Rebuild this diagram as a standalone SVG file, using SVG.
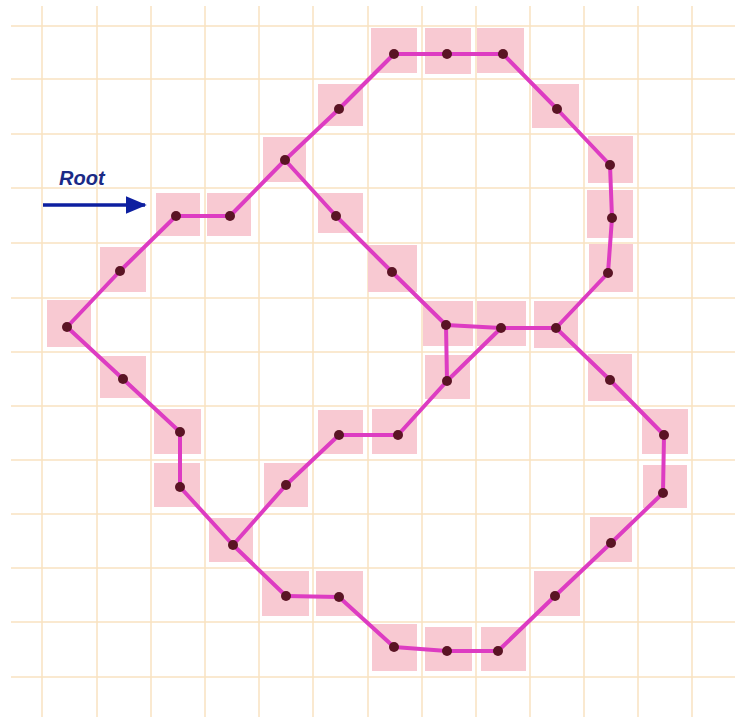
<svg xmlns="http://www.w3.org/2000/svg" width="735" height="718" viewBox="0 0 735 718">
<style>
.grid line{stroke:#f8e2c0;stroke-width:1.5}
.sq{fill:#f8c9d2}
.dot{fill:#5a1424}
.edges line{stroke:#dd3cc2;stroke-width:4;stroke-linecap:round}
.lbl{font-family:"Liberation Sans",Arial,sans-serif;font-size:20px;font-weight:bold;font-style:italic;fill:#1b2a86}
</style>
<defs>
<marker id="ah" markerWidth="6" markerHeight="5" refX="5.5" refY="2.5" orient="auto" markerUnits="strokeWidth">
<path d="M0,0 L6,2.5 L0,5 Z" fill="#0d1fa0"/>
</marker>
</defs>
<rect width="735" height="718" fill="#ffffff"/>
<g class="grid">
<line x1="42" y1="6" x2="42" y2="717"/><line x1="97" y1="6" x2="97" y2="717"/><line x1="151" y1="6" x2="151" y2="717"/><line x1="205" y1="6" x2="205" y2="717"/><line x1="259" y1="6" x2="259" y2="717"/><line x1="313" y1="6" x2="313" y2="717"/><line x1="368" y1="6" x2="368" y2="717"/><line x1="422" y1="6" x2="422" y2="717"/><line x1="476" y1="6" x2="476" y2="717"/><line x1="530" y1="6" x2="530" y2="717"/><line x1="584" y1="6" x2="584" y2="717"/><line x1="638" y1="6" x2="638" y2="717"/><line x1="692" y1="6" x2="692" y2="717"/>
<line x1="11" y1="26" x2="735" y2="26"/><line x1="11" y1="79" x2="735" y2="79"/><line x1="11" y1="134" x2="735" y2="134"/><line x1="11" y1="188" x2="735" y2="188"/><line x1="11" y1="243" x2="735" y2="243"/><line x1="11" y1="298" x2="735" y2="298"/><line x1="11" y1="352" x2="735" y2="352"/><line x1="11" y1="406" x2="735" y2="406"/><line x1="11" y1="460" x2="735" y2="460"/><line x1="11" y1="514" x2="735" y2="514"/><line x1="11" y1="568" x2="735" y2="568"/><line x1="11" y1="622" x2="735" y2="622"/><line x1="11" y1="677" x2="735" y2="677"/>
</g>
<g id="squares">
<rect class="sq" x="156" y="193" width="44" height="43"/>
<rect class="sq" x="207" y="193" width="44" height="43"/>
<rect class="sq" x="263" y="137" width="43" height="45"/>
<rect class="sq" x="318" y="84" width="45" height="42"/>
<rect class="sq" x="371" y="28" width="46" height="45"/>
<rect class="sq" x="425" y="28" width="46" height="46"/>
<rect class="sq" x="477" y="28" width="47" height="45"/>
<rect class="sq" x="532" y="84" width="47" height="44"/>
<rect class="sq" x="588" y="136" width="45" height="47"/>
<rect class="sq" x="587" y="190" width="46" height="48"/>
<rect class="sq" x="589" y="244" width="44" height="48"/>
<rect class="sq" x="534" y="301" width="44" height="47"/>
<rect class="sq" x="477" y="301" width="49" height="45"/>
<rect class="sq" x="423" y="301" width="50" height="45"/>
<rect class="sq" x="425" y="355" width="45" height="44"/>
<rect class="sq" x="372" y="409" width="45" height="45"/>
<rect class="sq" x="318" y="410" width="45" height="44"/>
<rect class="sq" x="264" y="463" width="44" height="44"/>
<rect class="sq" x="209" y="518" width="44" height="44"/>
<rect class="sq" x="262" y="571" width="47" height="45"/>
<rect class="sq" x="316" y="571" width="47" height="45"/>
<rect class="sq" x="372" y="624" width="45" height="47"/>
<rect class="sq" x="425" y="627" width="47" height="44"/>
<rect class="sq" x="481" y="627" width="45" height="44"/>
<rect class="sq" x="534" y="571" width="46" height="45"/>
<rect class="sq" x="590" y="517" width="42" height="45"/>
<rect class="sq" x="643" y="465" width="44" height="43"/>
<rect class="sq" x="642" y="409" width="46" height="45"/>
<rect class="sq" x="588" y="354" width="44" height="47"/>
<rect class="sq" x="100" y="247" width="46" height="45"/>
<rect class="sq" x="47" y="300" width="44" height="47"/>
<rect class="sq" x="100" y="356" width="46" height="42"/>
<rect class="sq" x="154" y="409" width="47" height="45"/>
<rect class="sq" x="154" y="463" width="46" height="44"/>
<rect class="sq" x="318" y="193" width="45" height="40"/>
<rect class="sq" x="368" y="245" width="49" height="47"/>
</g>
<g class="edges" id="connectors">
<line x1="176" y1="216" x2="230" y2="216"/>
<line x1="230" y1="216" x2="285" y2="160"/>
<line x1="285" y1="160" x2="339" y2="109"/>
<line x1="339" y1="109" x2="394" y2="54"/>
<line x1="394" y1="54" x2="447" y2="54"/>
<line x1="447" y1="54" x2="503" y2="54"/>
<line x1="503" y1="54" x2="557" y2="109"/>
<line x1="557" y1="109" x2="610" y2="165"/>
<line x1="610" y1="165" x2="612" y2="218"/>
<line x1="612" y1="218" x2="608" y2="273"/>
<line x1="608" y1="273" x2="556" y2="328"/>
<line x1="556" y1="328" x2="501" y2="328"/>
<line x1="501" y1="328" x2="446" y2="325"/>
<line x1="285" y1="160" x2="336" y2="216"/>
<line x1="336" y1="216" x2="392" y2="272"/>
<line x1="392" y1="272" x2="446" y2="325"/>
<line x1="446" y1="325" x2="447" y2="381"/>
<line x1="501" y1="328" x2="447" y2="381"/>
<line x1="447" y1="381" x2="398" y2="435"/>
<line x1="398" y1="435" x2="339" y2="435"/>
<line x1="339" y1="435" x2="286" y2="485"/>
<line x1="286" y1="485" x2="233" y2="545"/>
<line x1="233" y1="545" x2="286" y2="596"/>
<line x1="286" y1="596" x2="339" y2="597"/>
<line x1="339" y1="597" x2="394" y2="647"/>
<line x1="394" y1="647" x2="447" y2="651"/>
<line x1="447" y1="651" x2="498" y2="651"/>
<line x1="498" y1="651" x2="555" y2="596"/>
<line x1="555" y1="596" x2="611" y2="543"/>
<line x1="611" y1="543" x2="663" y2="493"/>
<line x1="663" y1="493" x2="664" y2="435"/>
<line x1="664" y1="435" x2="610" y2="380"/>
<line x1="610" y1="380" x2="556" y2="328"/>
<line x1="176" y1="216" x2="120" y2="271"/>
<line x1="120" y1="271" x2="67" y2="327"/>
<line x1="67" y1="327" x2="123" y2="379"/>
<line x1="123" y1="379" x2="180" y2="432"/>
<line x1="180" y1="432" x2="180" y2="487"/>
<line x1="180" y1="487" x2="233" y2="545"/>
</g>
<g id="nodes">
<g id="n1"><circle class="dot" cx="176" cy="216" r="5"/></g>
<g id="n2"><circle class="dot" cx="230" cy="216" r="5"/></g>
<g id="n3"><circle class="dot" cx="285" cy="160" r="5"/></g>
<g id="n4"><circle class="dot" cx="339" cy="109" r="5"/></g>
<g id="n5"><circle class="dot" cx="394" cy="54" r="5"/></g>
<g id="n6"><circle class="dot" cx="447" cy="54" r="5"/></g>
<g id="n7"><circle class="dot" cx="503" cy="54" r="5"/></g>
<g id="n8"><circle class="dot" cx="557" cy="109" r="5"/></g>
<g id="n9"><circle class="dot" cx="610" cy="165" r="5"/></g>
<g id="n10"><circle class="dot" cx="612" cy="218" r="5"/></g>
<g id="n11"><circle class="dot" cx="608" cy="273" r="5"/></g>
<g id="n12"><circle class="dot" cx="556" cy="328" r="5"/></g>
<g id="n13"><circle class="dot" cx="501" cy="328" r="5"/></g>
<g id="n14"><circle class="dot" cx="446" cy="325" r="5"/></g>
<g id="n15"><circle class="dot" cx="447" cy="381" r="5"/></g>
<g id="n16"><circle class="dot" cx="398" cy="435" r="5"/></g>
<g id="n17"><circle class="dot" cx="339" cy="435" r="5"/></g>
<g id="n18"><circle class="dot" cx="286" cy="485" r="5"/></g>
<g id="n19"><circle class="dot" cx="233" cy="545" r="5"/></g>
<g id="n20"><circle class="dot" cx="286" cy="596" r="5"/></g>
<g id="n21"><circle class="dot" cx="339" cy="597" r="5"/></g>
<g id="n22"><circle class="dot" cx="394" cy="647" r="5"/></g>
<g id="n23"><circle class="dot" cx="447" cy="651" r="5"/></g>
<g id="n24"><circle class="dot" cx="498" cy="651" r="5"/></g>
<g id="n25"><circle class="dot" cx="555" cy="596" r="5"/></g>
<g id="n26"><circle class="dot" cx="611" cy="543" r="5"/></g>
<g id="n27"><circle class="dot" cx="663" cy="493" r="5"/></g>
<g id="n28"><circle class="dot" cx="664" cy="435" r="5"/></g>
<g id="n29"><circle class="dot" cx="610" cy="380" r="5"/></g>
<g id="n30"><circle class="dot" cx="120" cy="271" r="5"/></g>
<g id="n31"><circle class="dot" cx="67" cy="327" r="5"/></g>
<g id="n32"><circle class="dot" cx="123" cy="379" r="5"/></g>
<g id="n33"><circle class="dot" cx="180" cy="432" r="5"/></g>
<g id="n34"><circle class="dot" cx="180" cy="487" r="5"/></g>
<g id="n35"><circle class="dot" cx="336" cy="216" r="5"/></g>
<g id="n36"><circle class="dot" cx="392" cy="272" r="5"/></g>
</g>
<g id="root-label">
<text class="lbl" x="59" y="185">Root</text>
<line x1="43" y1="205" x2="145" y2="205" stroke="#0d1fa0" stroke-width="3.5" marker-end="url(#ah)"/>
</g>
</svg>
